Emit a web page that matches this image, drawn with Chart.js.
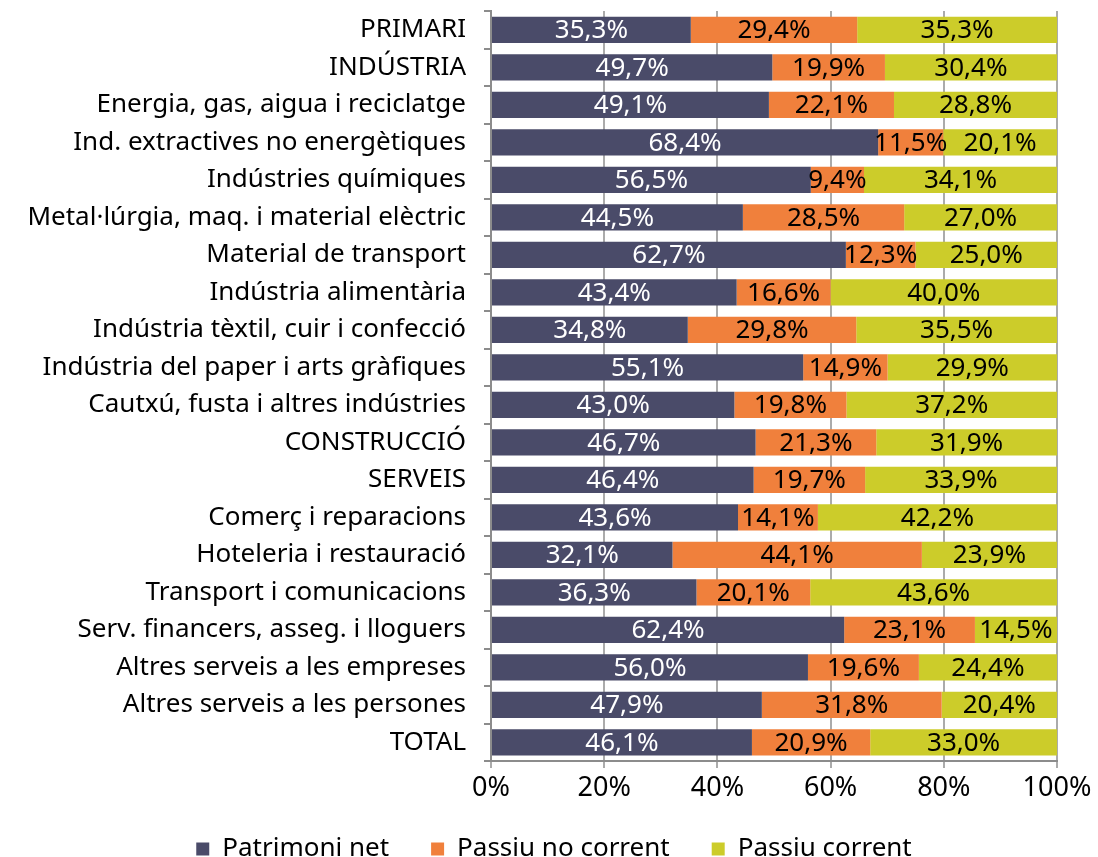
<!DOCTYPE html>
<html>
<head>
<meta charset="utf-8">
<script src="https://cdn.jsdelivr.net/npm/chart.js@4"></script>
<style>
  body { margin: 0; background: #fff; }
  #wrap { width: 1098px; height: 857px; }
</style>
</head>
<body>
<div id="wrap"><canvas id="chart" width="1098" height="857"></canvas></div>
<script>
"use strict";
const sectors = [
    "PRIMARI", "INDÚSTRIA", "Energia, gas, aigua i reciclatge",
    "Ind. extractives no energètiques", "Indústries químiques",
    "Metal·lúrgia, maq. i material elèctric", "Material de transport",
    "Indústria alimentària", "Indústria tèxtil, cuir i confecció",
    "Indústria del paper i arts gràfiques", "Cautxú, fusta i altres indústries",
    "CONSTRUCCIÓ", "SERVEIS", "Comerç i reparacions", "Hoteleria i restauració",
    "Transport i comunicacions", "Serv. financers, asseg. i lloguers",
    "Altres serveis a les empreses", "Altres serveis a les persones", "TOTAL"
];
const patrimoniNet = [35.3, 49.7, 49.1, 68.4, 56.5, 44.5, 62.7, 43.4, 34.8, 55.1, 43.0, 46.7, 46.4, 43.6, 32.1, 36.3, 62.4, 56.0, 47.9, 46.1];
const passiuNoCorrent = [29.4, 19.9, 22.1, 11.5, 9.4, 28.5, 12.3, 16.6, 29.8, 14.9, 19.8, 21.3, 19.7, 14.1, 44.1, 20.1, 23.1, 19.6, 31.8, 20.9];
const passiuCorrent = [35.3, 30.4, 28.8, 20.1, 34.1, 27.0, 25.0, 40.0, 35.5, 29.9, 37.2, 31.9, 33.9, 42.2, 23.9, 43.6, 14.5, 24.4, 20.4, 33.0];
const xTicks = [0, 20, 40, 60, 80, 100];

const FONT = "'Noto Sans', 'DejaVu Sans', sans-serif";

// 100% stacked: scale each row to its own total
function share(arr, i) {
    let tot = patrimoniNet[i] + passiuNoCorrent[i] + passiuCorrent[i];
    return arr[i] / tot * 100;
}
function buildSeries(arr) {
    let out = [];
    for (let i = 0; i < arr.length; i++) out.push(share(arr, i));
    return out;
}
function fmt(v) {
    return v.toFixed(1).replace('.', ',') + '%';
}

const raw = [patrimoniNet, passiuNoCorrent, passiuCorrent];
const labelColors = ['#ffffff', '#000000', '#000000'];

const barLabels = {
    id: 'barLabels',
    afterDatasetsDraw(chart) {
        const ctx = chart.ctx;
        ctx.save();
        ctx.font = "26px " + FONT;
        ctx.textAlign = 'center';
        ctx.textBaseline = 'middle';
        chart.data.datasets.forEach((ds, di) => {
            const meta = chart.getDatasetMeta(di);
            meta.data.forEach((bar, i) => {
                ctx.fillStyle = labelColors[di];
                ctx.fillText(fmt(raw[di][i]), (bar.x + bar.base) / 2, bar.y + 1);
            });
        });
        ctx.restore();
    }
};

// legend: wide gaps between items but a short box at the very bottom
const legendTweak = {
    id: 'legendTweak',
    afterInit(chart) {
        const lg = chart.legend;
        const fit = lg.fit;
        lg.fit = function () {
            fit.call(this);
            this.height = 47;
        };
        const draw = lg.draw;
        lg.draw = function () {
            const top = this.top, left = this.left;
            this.top = top - 16;
            this.left = left + 10;
            draw.call(this);
            this.top = top;
            this.left = left;
        };
    }
};

new Chart(document.getElementById('chart'), {
    type: 'bar',
    data: {
        labels: sectors,
        datasets: [
            { label: 'Patrimoni net', data: buildSeries(patrimoniNet), backgroundColor: '#4a4b69' },
            { label: 'Passiu no corrent', data: buildSeries(passiuNoCorrent), backgroundColor: '#f0803c' },
            { label: 'Passiu corrent', data: buildSeries(passiuCorrent), backgroundColor: '#cccc2a' }
        ]
    },
    options: {
        indexAxis: 'y',
        responsive: false,
        animation: false,
        layout: { padding: { left: 0, right: 0, top: 11, bottom: 0 } },
        datasets: { bar: { barPercentage: 0.7, categoryPercentage: 1.0, borderWidth: 0 } },
        scales: {
            x: {
                stacked: true,
                min: 0, max: 100,
                afterBuildTicks: (s) => { s.ticks = xTicks.map(v => ({ value: v })); },
                afterFit: (s) => { s.paddingRight = 41; s.height = 49; },
                ticks: {
                    callback: (v) => v + '%',
                    color: '#000',
                    font: { family: FONT, size: 27 },
                    padding: 4
                },
                grid: { color: '#ababab', lineWidth: 2, tickLength: 7 },
                border: { color: '#8c8c8c', width: 2 }
            },
            y: {
                stacked: true,
                afterFit: (s) => { s.width = 491; s.paddingTop = 0; s.paddingBottom = 0; },
                ticks: {
                    color: '#000',
                    font: { family: FONT, size: 26 },
                    padding: 18,
                    autoSkip: false
                },
                grid: { drawOnChartArea: false, color: '#8c8c8c', lineWidth: 2, tickLength: 7, offset: true },
                border: { color: '#8c8c8c', width: 2 }
            }
        },
        plugins: {
            legend: {
                position: 'bottom',
                labels: {
                    color: '#000',
                    font: { family: FONT, size: 26 },
                    boxWidth: 13,
                    boxHeight: 13,
                    padding: 42
                }
            },
            tooltip: { enabled: false }
        }
    },
    plugins: [barLabels, legendTweak]
});
</script>
</body>
</html>
